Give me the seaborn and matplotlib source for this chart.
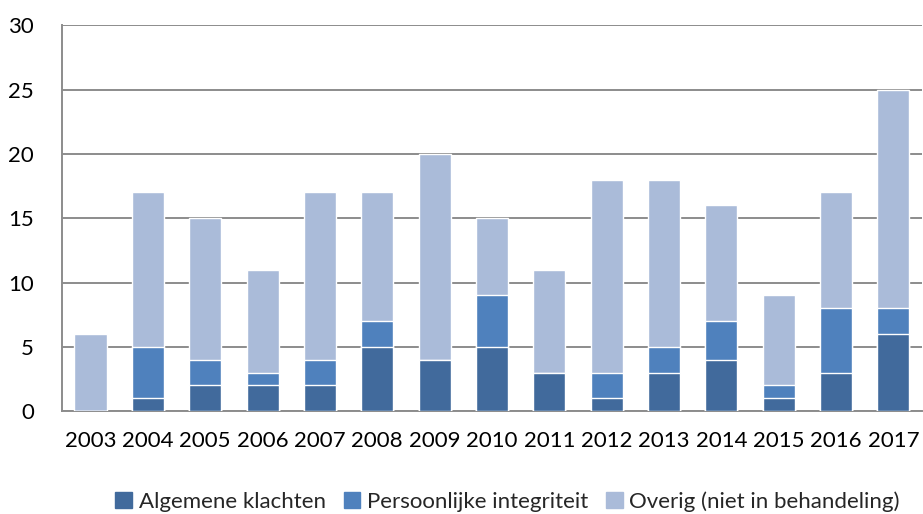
import numpy as np
import pandas as pd
import matplotlib.pyplot as plt
import seaborn as sns
from matplotlib.patches import Patch

years = ['2003', '2004', '2005', '2006', '2007', '2008', '2009', '2010',
         '2011', '2012', '2013', '2014', '2015', '2016', '2017']
algemene = [0, 1, 2, 2, 2, 5, 4, 5, 3, 1, 3, 4, 1, 3, 6]
persoonlijk = [0, 4, 2, 1, 2, 2, 0, 4, 0, 2, 2, 3, 1, 5, 2]
overig = [6, 12, 11, 8, 13, 10, 16, 6, 8, 15, 13, 9, 7, 9, 17]

labels = ['Algemene klachten', 'Persoonlijke integriteit', 'Overig (niet in behandeling)']
colors = ['#416A9C', '#4F81BD', '#AABBD9']

df = pd.DataFrame({'jaar': years, 'alg': algemene, 'pers': persoonlijk, 'ov': overig})
df['top2'] = df['alg'] + df['pers']
df['total'] = df['top2'] + df['ov']

sns.set_style('white')
plt.rcParams['font.family'] = ['Lato', 'DejaVu Sans']

fig, ax = plt.subplots(figsize=(9.23, 5.14), dpi=100)
fig.subplots_adjust(left=0.067, right=0.999, top=0.951, bottom=0.2)

# stacked bars drawn back to front
sns.barplot(data=df, x='jaar', y='total', color=colors[2], width=0.56, saturation=1, ax=ax, zorder=3)
sns.barplot(data=df, x='jaar', y='top2', color=colors[1], width=0.56, saturation=1, ax=ax, zorder=3)
sns.barplot(data=df, x='jaar', y='alg', color=colors[0], width=0.56, saturation=1, ax=ax, zorder=3)

ax.set_ylim(0, 30)
ax.set_yticks(range(0, 31, 5))
ax.set_xlim(-0.5, len(years) - 0.5)
ax.set_xlabel('')
ax.set_ylabel('')
ax.yaxis.grid(True, color='#8C8C8C', linewidth=1.4, zorder=0)
ax.set_axisbelow(True)
for s in ['top', 'right']:
    ax.spines[s].set_visible(False)
for s in ['left', 'bottom']:
    ax.spines[s].set_color('#8C8C8C')
    ax.spines[s].set_linewidth(1.4)
ax.tick_params(axis='both', length=0, labelsize=16, colors='black')
ax.tick_params(axis='y', pad=20)
ax.tick_params(axis='x', pad=14)

handles = [Patch(color=c, label=l) for c, l in zip(colors, labels)]
fig.legend(handles=handles, loc='lower center', ncol=3, frameon=False,
           fontsize=16, handlelength=0.75, handleheight=0.75, handletextpad=0.3,
           columnspacing=0.8, bbox_to_anchor=(0.55, -0.035))

fig.savefig('out.png', dpi=100)
